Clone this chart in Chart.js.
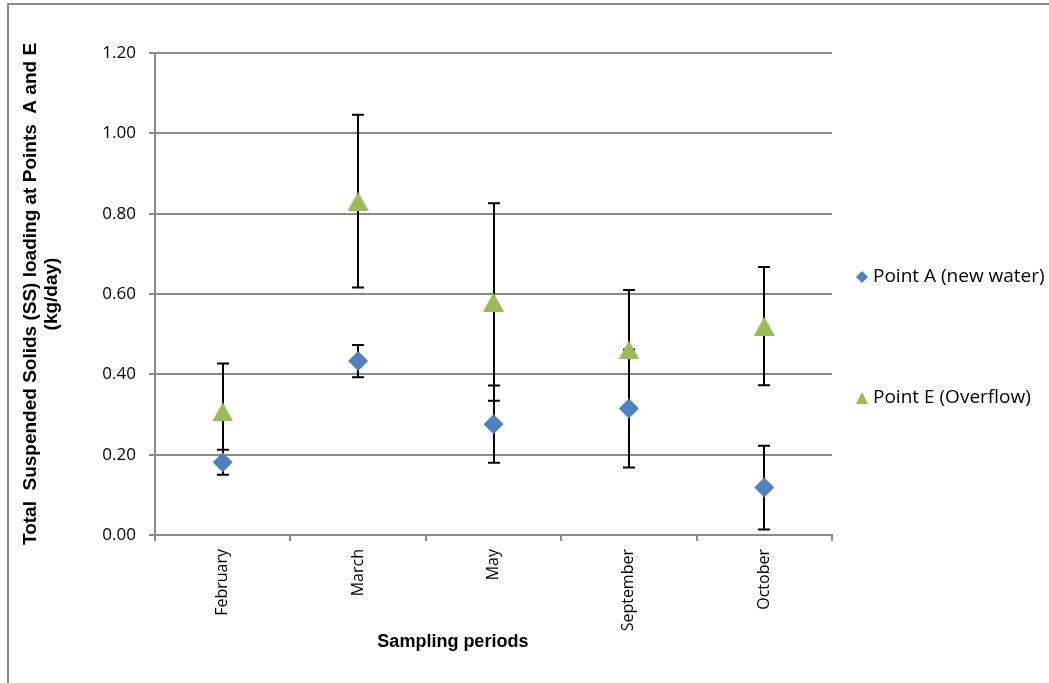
<!DOCTYPE html>
<html>
<head>
<meta charset="utf-8">
<script src="https://cdn.jsdelivr.net/npm/chart.js@4.4.1/dist/chart.umd.min.js"></script>
<style>
  html, body { margin: 0; padding: 0; background: #fff; overflow: hidden; }
  #wrap { position: relative; width: 1049px; height: 683px; }
  #frame { position: absolute; left: 7px; top: 3px; width: 1100px; height: 720px;
           border-left: 2px solid #8a8a8a; border-top: 2px solid #8a8a8a; }
  #c { position: absolute; left: 0; top: 0; }
</style>
</head>
<body>
<div id="wrap">
  <div id="frame"></div>
  <canvas id="c" width="1049" height="683"></canvas>
</div>
<script>
// Sampling periods and mean SS loading (kg/day) with ± deviation
const periods = ['February', 'March', 'May', 'September', 'October'];
const pointA = [0.181, 0.433, 0.276, 0.315, 0.118];
const pointAErr = [0.031, 0.040, 0.096, 0.147, 0.104];
const pointE = [0.307, 0.831, 0.580, 0.461, 0.520];
const pointEErr = [0.120, 0.215, 0.246, 0.149, 0.147];
const yMin = 0, yMax = 1.2, yStep = 0.2;

const seriesNames = ['Point A (new water)', 'Point E (Overflow)'];
const colorA = '#4F81BD';
const colorE = '#9BBB59';
const gridColor = '#8a8a8a';

function triangleCanvas(w, h, color) {
  const cv = document.createElement('canvas');
  cv.width = w; cv.height = h;
  const g = cv.getContext('2d');
  g.fillStyle = color;
  g.beginPath();
  g.moveTo(w / 2, 0);
  g.lineTo(w, h);
  g.lineTo(0, h);
  g.closePath();
  g.fill();
  return cv;
}
const triMarker = triangleCanvas(21, 19, colorE);
const triLegend = triangleCanvas(12, 12, colorE);

// Vertical error bars with caps, drawn beneath the markers
const errorBars = {
  id: 'errorBars',
  beforeDatasetsDraw(chart) {
    const ctx = chart.ctx;
    const y = chart.scales.y;
    ctx.save();
    ctx.strokeStyle = '#000';
    ctx.lineWidth = 2;
    chart.data.datasets.forEach((ds, di) => {
      const meta = chart.getDatasetMeta(di);
      meta.data.forEach((pt, i) => {
        const v = ds.data[i], e = ds.errors[i];
        const x = Math.round(pt.x);
        const yHi = y.getPixelForValue(v + e);
        const yLo = y.getPixelForValue(v - e);
        ctx.beginPath();
        ctx.moveTo(x, yHi); ctx.lineTo(x, yLo);
        ctx.moveTo(x - 6, yHi); ctx.lineTo(x + 6, yHi);
        ctx.moveTo(x - 6, yLo); ctx.lineTo(x + 6, yLo);
        ctx.stroke();
      });
    });
    ctx.restore();
  }
};

// Side legend and the x axis title
const annotations = {
  id: 'annotations',
  afterDraw(chart) {
    const ctx = chart.ctx;
    const a = chart.chartArea;
    ctx.save();
    ctx.fillStyle = '#000';
    ctx.textBaseline = 'middle';
    ctx.textAlign = 'center';
    ctx.font = 'bold 18px "Liberation Sans", Arial, sans-serif';
    ctx.fillText('Sampling periods', a.left + (a.right - a.left) * 0.44, a.bottom + 107);

    const lx = a.right + 30, tx = a.right + 41;
    const ly = [a.top + 224, a.top + 345];
    // diamond
    ctx.fillStyle = colorA;
    ctx.beginPath();
    ctx.moveTo(lx, ly[0] - 6); ctx.lineTo(lx + 6, ly[0]);
    ctx.lineTo(lx, ly[0] + 6); ctx.lineTo(lx - 6, ly[0]);
    ctx.closePath(); ctx.fill();
    // triangle
    ctx.drawImage(triLegend, lx - 6, ly[1] - 6);

    ctx.fillStyle = '#000';
    ctx.textAlign = 'left';
    ctx.font = '19px "Open Sans", sans-serif';
    ctx.fillText(seriesNames[0], tx, ly[0]);
    ctx.fillText(seriesNames[1], tx, ly[1]);
    ctx.restore();
  }
};

new Chart(document.getElementById('c'), {
  type: 'line',
  data: {
    labels: periods,
    datasets: [
      {
        label: seriesNames[0], data: pointA, errors: pointAErr,
        showLine: false, pointStyle: 'rectRot', pointRadius: 10, pointHoverRadius: 10,
        backgroundColor: colorA, borderColor: colorA, pointBorderWidth: 0
      },
      {
        label: seriesNames[1], data: pointE, errors: pointEErr,
        showLine: false, pointStyle: triMarker, pointRadius: 10, pointHoverRadius: 10,
        backgroundColor: colorE, borderColor: colorE, pointBorderWidth: 0
      }
    ]
  },
  options: {
    responsive: false,
    animation: false,
    events: [],
    layout: { padding: { top: 53, right: 217, left: 0, bottom: 0 } },
    plugins: { legend: { display: false }, tooltip: { enabled: false } },
    scales: {
      x: {
        type: 'category',
        offset: true,
        grid: { offset: true, drawOnChartArea: false, drawTicks: true, tickLength: 6,
                color: gridColor, lineWidth: 2 },
        border: { color: gridColor, width: 2 },
        ticks: { autoSkip: false, minRotation: 90, maxRotation: 90, padding: 8,
                 color: '#000', font: { family: '"Open Sans", sans-serif', size: 16 } },
        afterFit(s) { s.height = 148; }
      },
      y: {
        min: yMin, max: yMax,
        grid: { color: gridColor, lineWidth: 2, tickLength: 6 },
        border: { color: gridColor, width: 2 },
        ticks: { stepSize: yStep, padding: 13, color: '#000',
                 font: { family: '"Open Sans", sans-serif', size: 17 },
                 callback: v => Number(v).toFixed(2) },
        title: {
          display: true,
          text: ['Total  Suspended Solids (SS) loading at Points  A and E', '(kg/day)'],
          color: '#000',
          font: { family: '"Liberation Sans", Arial, sans-serif', size: 19, weight: 'bold', lineHeight: 1.1 },
          padding: { top: 20, bottom: 0 }
        },
        afterFit(s) { s.width = 155; }
      }
    }
  },
  plugins: [errorBars, annotations]
});
</script>
</body>
</html>
